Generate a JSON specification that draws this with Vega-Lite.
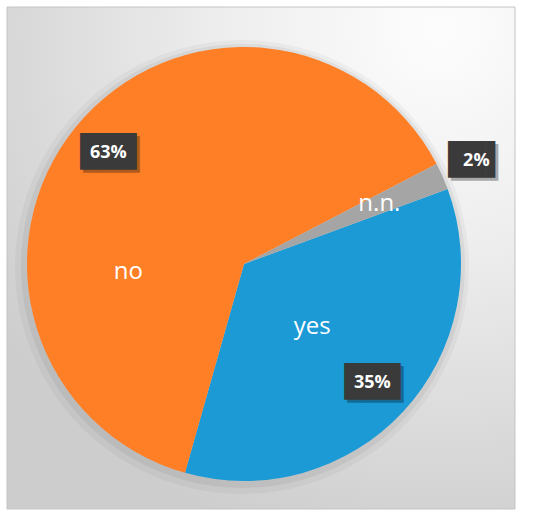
{
  "$schema": "https://vega.github.io/schema/vega-lite/v6.json",
  "width": 508,
  "height": 502,
  "autosize": {"type": "none"},
  "padding": {"left": 7, "top": 7, "right": 35, "bottom": 8},
  "background": "#ffffff",
  "config": {"view": {"stroke": null}},
  "layer": [
    {
      "data": {"values": [{"panel": "background"}]},
      "mark": {
        "type": "rect",
        "stroke": "#c4c4c4",
        "strokeWidth": 1,
        "fill": {
          "gradient": "radial",
          "x1": 0.85, "y1": 0.05, "r1": 0,
          "x2": 0.85, "y2": 0.05, "r2": 1.05,
          "stops": [
            {"offset": 0, "color": "#fdfdfd"},
            {"offset": 0.4, "color": "#eeeeee"},
            {"offset": 0.8, "color": "#d8d8d8"},
            {"offset": 1, "color": "#cdcdcd"}
          ]
        }
      },
      "encoding": {
        "x": {"value": 0},
        "x2": {"value": "width"},
        "y": {"value": 0},
        "y2": {"value": "height"}
      }
    },
    {
      "data": {
        "values": [
          {"cat": "yes", "share": 0.35, "idx": 1},
          {"cat": "no", "share": 0.63, "idx": 2},
          {"cat": "n.n.", "share": 0.02, "idx": 3}
        ]
      },
      "encoding": {
        "theta": {"field": "share", "type": "quantitative", "stack": true, "scale": {"range": [1.218, 7.501]}},
        "order": {"field": "idx", "type": "quantitative"}
      },
      "layer": [
        {
          "mark": {"type": "arc", "outerRadius": 227, "fill": "#000000", "opacity": 0.035, "x": {"expr": "width/2-19"}, "y": {"expr": "height/2+9"}}
        },
        {
          "mark": {"type": "arc", "outerRadius": 222, "fill": "#000000", "opacity": 0.05, "x": {"expr": "width/2-18"}, "y": {"expr": "height/2+8"}}
        },
        {
          "mark": {"type": "arc", "outerRadius": 217, "x": {"expr": "width/2-17"}, "y": {"expr": "height/2+6"}},
          "encoding": {
            "color": {
              "field": "cat", "type": "nominal",
              "scale": {"domain": ["yes", "no", "n.n."], "range": ["#1B9AD6", "#FF7F27", "#A5A5A5"]},
              "legend": null
            }
          }
        },
        {
          "mark": {"type": "text", "font": "Open Sans", "fontSize": 24, "color": "#ffffff", "baseline": "middle", "align": "center",
            "x": {"expr": "width/2-17"}, "y": {"expr": "height/2+6"},
            "thetaOffset": {"expr": "datum.cat == 'no' ? -0.75 : 0"},
            "radius": {"expr": "datum.cat == 'no' ? 116 : datum.cat == 'n.n.' ? 148 : 93"}},
          "encoding": {
            "text": {"field": "cat", "type": "nominal"}
          }
        },
        {
          "mark": {"type": "text", "font": "DejaVu Sans Mono", "fontSize": 31, "color": "#000000", "opacity": 0.3, "baseline": "middle", "align": "center", "dx": 3, "dy": 3,
            "x": {"expr": "width/2-17"}, "y": {"expr": "height/2+6"},
            "radius": {"expr": "datum.cat == 'n.n.' ? 254 : 175"}},
          "encoding": {
            "text": {"condition": {"test": "datum.cat == 'n.n.'", "value": "██▌"}, "value": "███"}
          }
        },
        {
          "mark": {"type": "text", "font": "DejaVu Sans Mono", "fontSize": 31, "color": "#3a3a3a", "baseline": "middle", "align": "center",
            "x": {"expr": "width/2-17"}, "y": {"expr": "height/2+6"},
            "radius": {"expr": "datum.cat == 'n.n.' ? 254 : 175"}},
          "encoding": {
            "text": {"condition": {"test": "datum.cat == 'n.n.'", "value": "██▌"}, "value": "███"}
          }
        },
        {
          "mark": {"type": "text", "font": "Open Sans", "fontSize": 18, "fontWeight": "bold", "color": "#ffffff", "baseline": "middle", "align": "center",
            "x": {"expr": "width/2-17"}, "y": {"expr": "height/2+6"},
            "radius": {"expr": "datum.cat == 'n.n.' ? 254 : 175"}},
          "encoding": {
            "text": {"field": "share", "type": "quantitative", "format": ".0%"}
          }
        }
      ]
    }
  ]
}
